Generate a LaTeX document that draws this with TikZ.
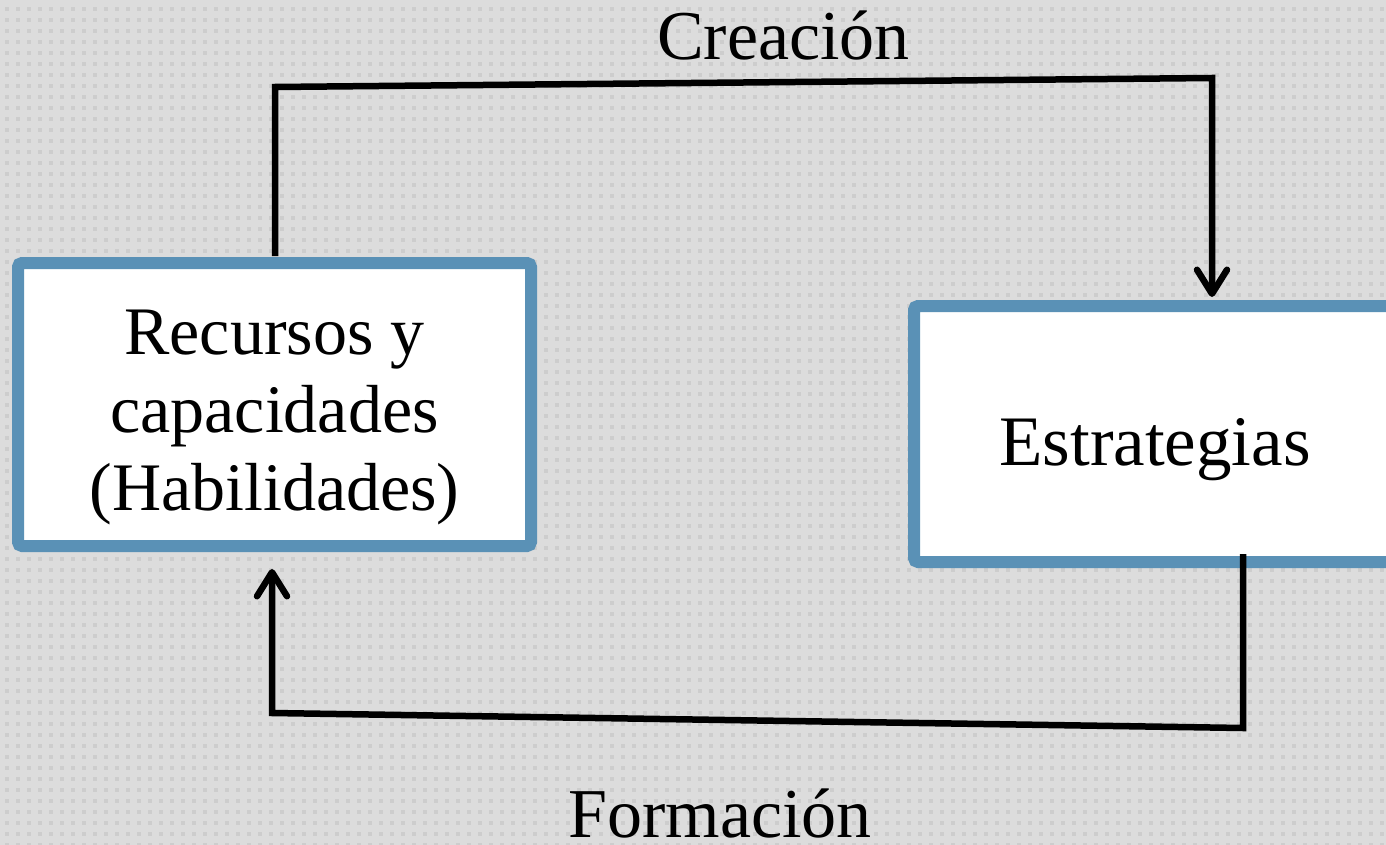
\documentclass[tikz,border=0pt]{standalone}
\usepackage{fontspec}
\setmainfont{Liberation Serif}
\usetikzlibrary{arrows.meta}
\definecolor{bgGray}{HTML}{DCDCDC}
\definecolor{dotGray}{HTML}{CDCDCD}
\definecolor{boxBlue}{HTML}{5A91B6}
\tikzset{>={Straight Barb[length=24pt,width=30pt,line cap=round,line join=round]}}
\tikzstyle{Box}=[draw=boxBlue, line width=12pt, fill=white, rounded corners=4pt, align=center, inner sep=0pt, text depth=0pt]
\tikzstyle{Link}=[line width=6.5pt, line join=miter]
\tikzstyle{Lbl}=[anchor=base, inner sep=0pt, font=\fontsize{70}{78}\selectfont]

\begin{document}
\begin{tikzpicture}[x=1pt,y=-1pt]
		%\draw [help lines] (0,0) grid (1386,845);
		\useasboundingbox (0,0) rectangle (1386,845);

		% dotted backdrop
		\fill[bgGray] (0,0) rectangle (1386,845);
		\foreach \y in {9,20,...,845}
			\draw[dotGray, line width=4pt, dash pattern=on 4pt off 7pt] (5,\y) -- (1386,\y);

		\node[Box, minimum width=513pt, minimum height=283pt, text height=211pt, font=\fontsize{68}{78}\selectfont] (recursos) at (274.5,404.5) {Recursos y\\capacidades\\(Habilidades)};
		\node[Box, minimum width=482pt, minimum height=256pt, text height=62pt, font=\fontsize{71}{78}\selectfont] (estrategias) at (1155,434) {Estrategias};

		\node[Lbl] (creacion) at (783.5,60) {Creación};
		\node[Lbl] (formacion) at (720,837) {Formación};

		\coordinate (c1) at (275,87);
		\coordinate (c2) at (1212,78);
		\coordinate (c3) at (1243,728);
		\coordinate (c4) at (272,713);

		\draw[Link, ->] ([yshift=1pt]recursos.north -| c1) -- (c1) -- (c2) -- ([yshift=3pt]estrategias.north -| c2);
		\draw[Link, ->] ([yshift=14pt]estrategias.south -| c3) -- (c3) -- (c4) -- ([yshift=-17pt]recursos.south -| c4);
\end{tikzpicture}
\end{document}
